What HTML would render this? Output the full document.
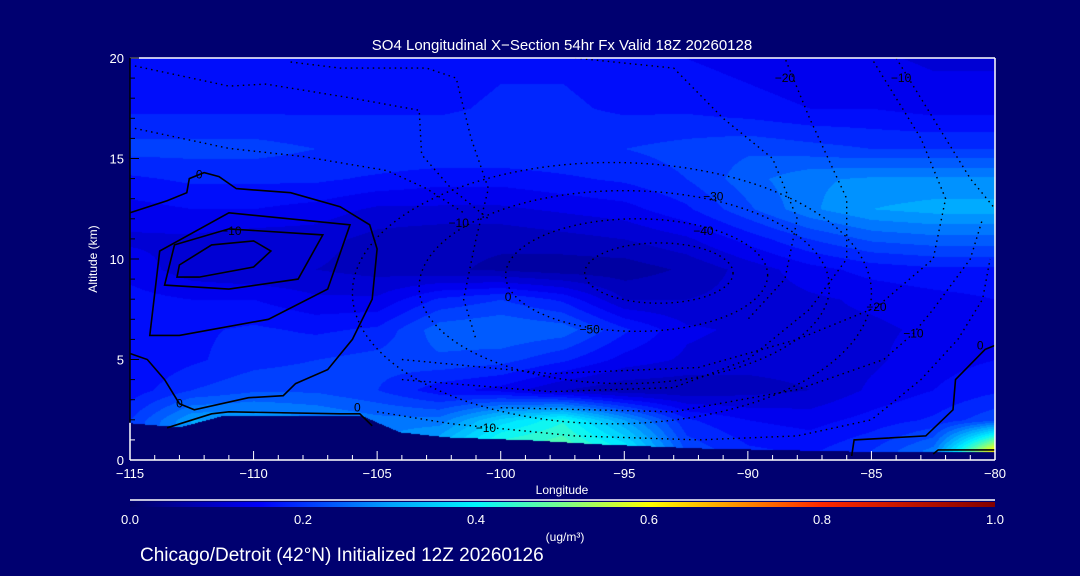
<!DOCTYPE html>
<html><head><meta charset="utf-8">
<style>
html,body{margin:0;padding:0;background:#000070;}
#wrap{position:relative;width:1080px;height:576px;overflow:hidden;background:#000070;font-family:"Liberation Sans",sans-serif;color:#fff;}
canvas{position:absolute;left:130px;top:58px;}
svg{position:absolute;left:0;top:0;}
</style></head>
<body>
<div id="wrap">
<canvas id="field" width="865" height="402"></canvas>
<svg id="ov" width="1080" height="576"></svg>
</div>
<script>
// ---- data ----
const lons = [-115,-112.5,-110,-107.5,-105,-102.5,-100,-97.5,-95,-92.5,-90,-87.5,-85,-82.5,-80];
const alts = [0.5,2,3.5,5,6.5,8,9.5,11,12.5,14,15.5,17.5,20];
const conc = [
 [.22,.32,.32,.30,.28,.34,.46,.48,.40,.22,.18,.17,.20,.26,.62],
 [.20,.30,.30,.28,.26,.26,.36,.42,.30,.18,.15,.14,.16,.18,.22],
 [.16,.20,.22,.22,.20,.16,.14,.10,.08,.08,.09,.10,.13,.15,.17],
 [.15,.17,.19,.20,.21,.22,.21,.18,.14,.12,.11,.11,.12,.14,.15],
 [.16,.17,.18,.17,.18,.24,.25,.24,.18,.13,.12,.12,.12,.13,.14],
 [.16,.15,.15,.13,.13,.18,.20,.17,.10,.10,.11,.12,.13,.14,.15],
 [.14,.11,.10,.10,.09,.08,.07,.06,.06,.08,.11,.14,.16,.17,.17],
 [.12,.12,.11,.11,.09,.08,.08,.09,.10,.12,.16,.20,.23,.24,.24],
 [.14,.15,.15,.14,.12,.12,.12,.13,.14,.17,.22,.27,.30,.31,.31],
 [.17,.18,.18,.18,.17,.16,.16,.17,.18,.20,.24,.27,.28,.28,.28],
 [.21,.21,.21,.20,.20,.20,.20,.20,.20,.21,.22,.21,.20,.20,.20],
 [.17,.17,.17,.17,.17,.17,.18,.18,.17,.17,.16,.15,.15,.14,.14],
 [.16,.16,.16,.16,.16,.16,.17,.17,.16,.15,.14,.13,.13,.12,.12]
];
const terrainLon = [-115,-113,-111.3,-105.6,-104.1,-102.2,-98.8,-96,-92,-88,-84,-80];
const terrainAlt = [1.85,1.65,2.2,2.2,1.4,1.15,1.0,0.8,0.6,0.5,0.4,0.4];
const xTicks = [-115,-110,-105,-100,-95,-90,-85,-80];
const yTicks = [0,5,10,15,20];
const cbTicks = [0.0,0.2,0.4,0.6,0.8,1.0];
const solidContours = [
 {closed:true, pts:[[-113.1,9.1],[-113,9.7],[-111.7,10.7],[-110,10.9],[-109.3,10.4],[-110,9.6],[-112.2,9.1]]},
 {closed:true, pts:[[-113.6,8.7],[-113.2,10.7],[-111,11.5],[-107.2,11.2],[-108.2,9],[-111,8.5]]},
 {closed:true, pts:[[-114.2,6.2],[-113.8,10.4],[-111,12.3],[-106.1,11.7],[-107,8.5],[-109.4,7],[-113,6.2]]},
 {closed:false, pts:[[-115,12.3],[-113.5,12.9],[-112.7,13.3],[-112.6,14],[-112,14.3],[-111.4,14.1],[-110.7,13.5],[-108.5,13.3],[-106.5,12.6],[-105.3,11.7],[-105,10.5],[-105.2,8],[-106,6],[-107,4.5],[-108.3,3.8],[-108.8,3.2],[-110.2,3.1],[-112.4,2.5],[-113,2.8],[-113.6,4],[-114.3,5],[-115,5.3]]},
 {closed:false, pts:[[-113.5,1.6],[-111.7,2.3],[-111,2.4],[-106.5,2.3],[-105.7,2.3],[-105.2,1.7]]},
 {closed:false, pts:[[-80,5.7],[-80.4,5.5],[-81.6,4],[-81.7,2.5],[-82.8,1.2],[-85.7,1],[-85.8,0.2]]},
 {closed:false, pts:[[-82.5,0.3],[-82.3,0.5],[-80,0.5]]}
];
const dottedContours = [
 {closed:false, pts:[[-114.8,19.6],[-111,18.6],[-109.5,18.7],[-106,18],[-103.3,17.4],[-103.2,15.2],[-102,13.5],[-100.5,12]]},
 {closed:false, pts:[[-114.8,16.5],[-111,15.5],[-108,15.1],[-104.6,14.4],[-103,13.5],[-101.5,12.3]]},
 {closed:false, pts:[[-108.5,19.8],[-106.5,19.5],[-103,19.5],[-101.8,19],[-101.2,16],[-100.5,13.5],[-101,11],[-101.5,8],[-101,6]]},
 {closed:false, pts:[[-105,2.4],[-102,1.8],[-97,1.2],[-92,1],[-88,1.2],[-85,2],[-83,4],[-81.5,6],[-80.5,8],[-80.2,10]]},
 {closed:false, pts:[[-100,2.6],[-93,2.4],[-88,3.5],[-84.5,5],[-83.3,6.3],[-82.5,7.5],[-81,10],[-80.5,12]]},
 {closed:false, pts:[[-104,5],[-98,4.3],[-92,4.6],[-88,6],[-84.8,7.6],[-82.5,10],[-82,13],[-83,16],[-85,20]]},
 {closed:false, pts:[[-104,4],[-98,3.4],[-93,3.6],[-90,5],[-87.5,7.5],[-86,10],[-86,13],[-87.5,17],[-88.5,20]]},
 {closed:false, pts:[[-84,20],[-82.5,17],[-81,14],[-80,12.5]]},
 {closed:false, pts:[[-97,20],[-93,19.5],[-91,17],[-89,15],[-88,12],[-88.5,9],[-90,7]]}
];
const ellipses = [[-93.6,9.3,3,1.5],[-94.5,9.2,5.3,2.8],[-95,8.6,8.3,4.8],[-95.5,8.3,10.5,6.5]];
const labels = [[-112.2,14.2,'0'],[-110.9,11.4,'-10'],[-101.7,11.8,'-10'],[-91.4,13.1,'-30'],[-91.8,11.4,'-40'],[-96.4,6.5,'-50'],[-84.8,7.6,'-20'],[-83.3,6.3,'-10'],[-80.6,5.7,'0'],[-100.6,1.6,'-10'],[-105.8,2.6,'0'],[-99.7,8.1,'0'],[-113,2.8,'0'],[-88.5,19,'-20'],[-83.8,19,'-10']];

// ---- axes ----
const X0=130,X1=995,Y0=58,Y1=460;
const xs = l => X0 + (l+115)/35*(X1-X0);
const ys = a => Y1 - a/20*(Y1-Y0);
const cbx = v => X0 + v*(X1-X0);

const stops=[[0,0,0,100],[0.15,0,0,250],[0.2,0,50,255],[0.3,0,160,255],[0.4,0,245,255],[0.5,120,255,140],[0.6,255,255,0],[0.8,255,40,0],[1,130,0,0]];
function cmap(v){v=Math.max(0,Math.min(1,v));for(let i=1;i<stops.length;i++){if(v<=stops[i][0]){const a=stops[i-1],b=stops[i],t=(v-a[0])/(b[0]-a[0]);return [a[1]+t*(b[1]-a[1]),a[2]+t*(b[2]-a[2]),a[3]+t*(b[3]-a[3])];}}return stops[stops.length-1].slice(1);}
function interp1(xa,ya,x){if(x<=xa[0])return ya[0];for(let i=1;i<xa.length;i++){if(x<=xa[i]){const t=(x-xa[i-1])/(xa[i]-xa[i-1]);return ya[i-1]+t*(ya[i]-ya[i-1]);}}return ya[ya.length-1];}
function idx(arr,v){if(v<=arr[0])return[0,0];for(let i=1;i<arr.length;i++)if(v<=arr[i])return[i-1,(v-arr[i-1])/(arr[i]-arr[i-1])];return[arr.length-2,1];}
function field(l,a){const [i,ti]=idx(lons,l),[j,tj]=idx(alts,a);const v00=conc[j][i],v01=conc[j][i+1],v10=conc[j+1][i],v11=conc[j+1][i+1];return (v00*(1-ti)+v01*ti)*(1-tj)+(v10*(1-ti)+v11*ti)*tj;}

const cv=document.getElementById('field'),ctx=cv.getContext('2d');
const img=ctx.createImageData(865,402);
for(let py=0;py<402;py++){const a=(Y1-(py+Y0))/(Y1-Y0)*20;for(let px=0;px<865;px++){const l=-115+px/865*35;let c;if(a<interp1(terrainLon,terrainAlt,l)){c=[0,0,112];}else{let v=field(l,a);v=Math.floor(v/0.025)*0.025+0.0125;c=cmap(v);}const k=(py*865+px)*4;img.data[k]=c[0];img.data[k+1]=c[1];img.data[k+2]=c[2];img.data[k+3]=255;}}
ctx.putImageData(img,0,0);

const NS='http://www.w3.org/2000/svg',svg=document.getElementById('ov');
function mk(t,at,txt){const e=document.createElementNS(NS,t);for(const k in at)e.setAttribute(k,at[k]);if(txt!==undefined)e.textContent=txt;svg.appendChild(e);return e;}
function path(c){return c.pts.map((p,i)=>(i?'L':'M')+xs(p[0]).toFixed(1)+' '+ys(p[1]).toFixed(1)).join(' ')+(c.closed?' Z':'');}

solidContours.forEach(c=>{const e=mk('path',{d:path(c),fill:'none',stroke:'#000','stroke-width':1.6});

});
dottedContours.forEach(c=>{const e=mk('path',{d:path(c),fill:'none',stroke:'#000','stroke-width':1.4,'stroke-dasharray':'1.5 4'});

});
ellipses.forEach(el=>{const cx=xs(el[0]),cy=ys(el[1]),rx=xs(el[0]+el[2])-cx,ry=cy-ys(el[1]+el[3]);const e=mk('ellipse',{cx:cx,cy:cy,rx:rx,ry:ry,fill:'none',stroke:'#000','stroke-width':1.4,'stroke-dasharray':'1.5 4'});

});
labels.forEach(lb=>{const e=mk('text',{x:xs(lb[0]),y:ys(lb[1])+4,'font-size':12,fill:'#000','text-anchor':'middle','font-family':'Liberation Sans'},lb[2].replace('-','\u2212'));

});

// frame
let e;
e=mk('line',{x1:X0,y1:Y0,x2:X1,y2:Y0,stroke:'#fff','stroke-width':1.5});


e=mk('line',{x1:X1,y1:Y0,x2:X1,y2:Y1,stroke:'#fff','stroke-width':1.5});


e=mk('line',{x1:X0,y1:Y1,x2:X1,y2:Y1,stroke:'#fff','stroke-width':1.5});


e=mk('line',{x1:X0,y1:Y0,x2:X0,y2:ys(1.85),stroke:'#000','stroke-width':1.5});


e=mk('line',{x1:X0,y1:ys(1.85),x2:X0,y2:Y1,stroke:'#fff','stroke-width':1.5});


for(let l=-115;l<=-80;l++){const maj=xTicks.includes(l);const t=mk('line',{x1:xs(l),x2:xs(l),y1:Y1,y2:Y1-(maj?9:5),stroke:'#fff','stroke-width':1});

}
for(let a=0;a<=20;a++){const maj=yTicks.includes(a);const col=a<2?'#fff':'#000';const t=mk('line',{x1:X0,x2:X0+(maj?9:5),y1:ys(a),y2:ys(a),stroke:col,'stroke-width':1});

}
xTicks.forEach(l=>{const t=mk('text',{x:xs(l),y:478,'font-size':13,fill:'#fff','text-anchor':'middle'},String(l).replace('-','\u2212'));

});
yTicks.forEach(a=>{const t=mk('text',{x:124,y:ys(a)+5,'font-size':13,fill:'#fff','text-anchor':'end'},String(a));

});
e=mk('text',{x:562,y:494,'font-size':12,fill:'#fff','text-anchor':'middle'},'Longitude');


e=mk('text',{x:97,y:259,'font-size':12,fill:'#fff','text-anchor':'middle',transform:'rotate(-90 97 259)'},'Altitude (km)');


e=mk('text',{x:562,y:50,'font-size':15,fill:'#fff','text-anchor':'middle'},'SO4 Longitudinal X\u2212Section 54hr  Fx Valid 18Z 20260128');



// colorbar
const defs=mk('defs',{});
const g=document.createElementNS(NS,'linearGradient');g.setAttribute('id','cbg');defs.appendChild(g);
for(let i=0;i<=20;i++){const c=cmap(i/20);const s=document.createElementNS(NS,'stop');s.setAttribute('offset',(i*5)+'%');s.setAttribute('stop-color','rgb('+c.map(Math.round).join(',')+')');g.appendChild(s);}
e=mk('line',{x1:X0,y1:500,x2:X1,y2:500,stroke:'#fff','stroke-width':1.5});


e=mk('rect',{x:X0,y:502,width:X1-X0,height:5,fill:'url(#cbg)'});


cbTicks.forEach(v=>{const t=mk('text',{x:cbx(v),y:524,'font-size':13,fill:'#fff','text-anchor':'middle'},v.toFixed(1));

});
e=mk('text',{x:565,y:541,'font-size':12,fill:'#fff','text-anchor':'middle'},'(ug/m\u00b3)');


e=mk('text',{x:140,y:561,'font-size':19,fill:'#fff'},'Chicago/Detroit (42\u00b0N) Initialized 12Z 20260126');


</script>
</body></html>
